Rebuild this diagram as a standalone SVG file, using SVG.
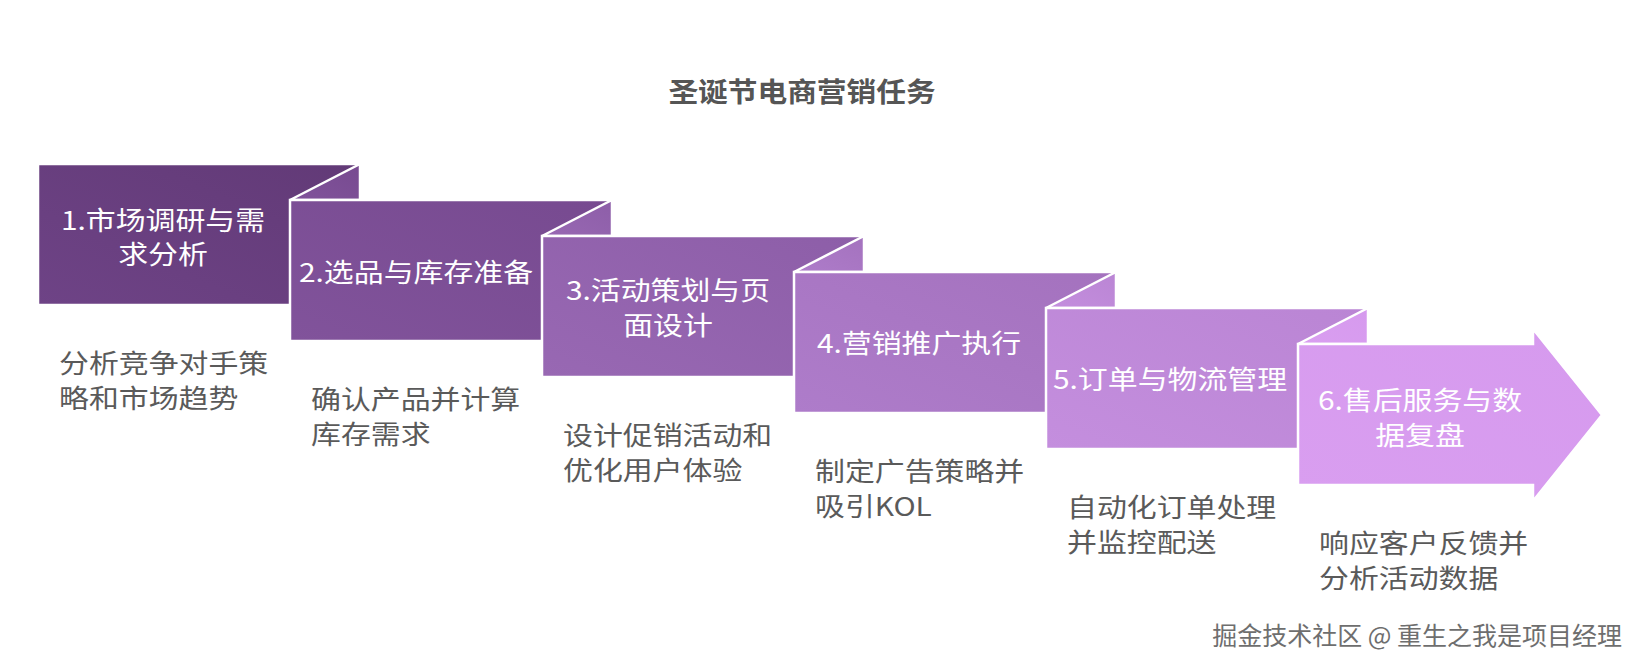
<svg xmlns="http://www.w3.org/2000/svg" width="1641" height="669" viewBox="0 0 1641 669">
<style>
.bx{stroke:#ffffff;stroke-width:2.5;stroke-linejoin:miter}
.lbl{font-family:"Noto Sans CJK SC","Noto Sans",sans-serif;font-size:26px;fill:#ffffff;text-anchor:middle}
.dsc{font-family:"Noto Sans CJK SC","Noto Sans",sans-serif;font-size:26px;fill:#5a5a5a}
.ttl{font-family:"Noto Sans CJK SC","Noto Sans",sans-serif;font-size:27px;font-weight:bold;fill:#555555;text-anchor:middle}
.wm{font-family:"Noto Sans CJK SC","Noto Sans",sans-serif;font-size:25px;fill:#6e6e6e;text-anchor:end}
</style>
<defs>
<linearGradient id="g0" x1="0" y1="1" x2="1" y2="0"><stop offset="0" stop-color="#6e4386"/><stop offset="1" stop-color="#623a77"/></linearGradient>
<linearGradient id="g1" x1="0" y1="1" x2="1" y2="0"><stop offset="0" stop-color="#81539b"/><stop offset="1" stop-color="#774a90"/></linearGradient>
<linearGradient id="g2" x1="0" y1="1" x2="1" y2="0"><stop offset="0" stop-color="#9868b3"/><stop offset="1" stop-color="#8d5ea8"/></linearGradient>
<linearGradient id="g3" x1="0" y1="1" x2="1" y2="0"><stop offset="0" stop-color="#ae7cca"/><stop offset="1" stop-color="#a472be"/></linearGradient>
<linearGradient id="g4" x1="0" y1="1" x2="1" y2="0"><stop offset="0" stop-color="#c48ede"/><stop offset="1" stop-color="#ba85d4"/></linearGradient>
<linearGradient id="g5" x1="0" y1="1" x2="1" y2="0"><stop offset="0" stop-color="#d99ef0"/><stop offset="1" stop-color="#d69aee"/></linearGradient>
</defs>
<rect width="1641" height="669" fill="#ffffff"/>
<text class="ttl" transform="translate(802 102) scale(1.1 1)">圣诞节电商营销任务</text>

<g id="step1">
<rect class="bx" x="38" y="164" width="322" height="141" fill="url(#g0)"/>
<text class="lbl" transform="translate(163 230) scale(1.15 1)">1.市场调研与需</text>
<text class="lbl" transform="translate(163 264) scale(1.15 1)">求分析</text>
<text class="dsc" transform="translate(59 373) scale(1.15 1)">分析竞争对手策</text>
<text class="dsc" transform="translate(59 408) scale(1.15 1)">略和市场趋势</text>
</g>

<g id="step2">
<polygon class="bx" points="290,200 360,164 360,200" fill="url(#g1)"/>
<rect class="bx" x="290" y="200" width="322" height="141" fill="url(#g1)"/>
<text class="lbl" transform="translate(416 282) scale(1.15 1)">2.选品与库存准备</text>
<text class="dsc" transform="translate(311 409) scale(1.15 1)">确认产品并计算</text>
<text class="dsc" transform="translate(311 444) scale(1.15 1)">库存需求</text>
</g>

<g id="step3">
<polygon class="bx" points="542,236 612,200 612,236" fill="url(#g2)"/>
<rect class="bx" x="542" y="236" width="322" height="141" fill="url(#g2)"/>
<text class="lbl" transform="translate(668 300) scale(1.15 1)">3.活动策划与页</text>
<text class="lbl" transform="translate(668 335) scale(1.15 1)">面设计</text>
<text class="dsc" transform="translate(563 445) scale(1.15 1)">设计促销活动和</text>
<text class="dsc" transform="translate(563 480) scale(1.15 1)">优化用户体验</text>
</g>

<g id="step4">
<polygon class="bx" points="794,272 864,236 864,272" fill="url(#g3)"/>
<rect class="bx" x="794" y="272" width="322" height="141" fill="url(#g3)"/>
<text class="lbl" transform="translate(919 353) scale(1.15 1)">4.营销推广执行</text>
<text class="dsc" transform="translate(815 481) scale(1.15 1)">制定广告策略并</text>
<text class="dsc" transform="translate(815 516) scale(1.15 1)">吸引KOL</text>
</g>

<g id="step5">
<polygon class="bx" points="1046,308 1116,272 1116,308" fill="url(#g4)"/>
<rect class="bx" x="1046" y="308" width="322" height="141" fill="url(#g4)"/>
<text class="lbl" transform="translate(1170 389) scale(1.15 1)">5.订单与物流管理</text>
<text class="dsc" transform="translate(1067 517) scale(1.15 1)">自动化订单处理</text>
<text class="dsc" transform="translate(1067 552) scale(1.15 1)">并监控配送</text>
</g>

<g id="step6">
<polygon class="bx" points="1298,344 1368,308 1368,344" fill="url(#g5)"/>
<polygon class="bx" points="1298,344 1533,344 1533,329 1602,415 1533,501 1533,485 1298,485" fill="url(#g5)"/>
<text class="lbl" transform="translate(1420 410) scale(1.15 1)">6.售后服务与数</text>
<text class="lbl" transform="translate(1420 445) scale(1.15 1)">据复盘</text>
<text class="dsc" transform="translate(1319 553) scale(1.15 1)">响应客户反馈并</text>
<text class="dsc" transform="translate(1319 588) scale(1.15 1)">分析活动数据</text>
</g>

<g id="connectors"></g>

<text class="wm" x="1622" y="645">掘金技术社区 @ 重生之我是项目经理</text>
</svg>
